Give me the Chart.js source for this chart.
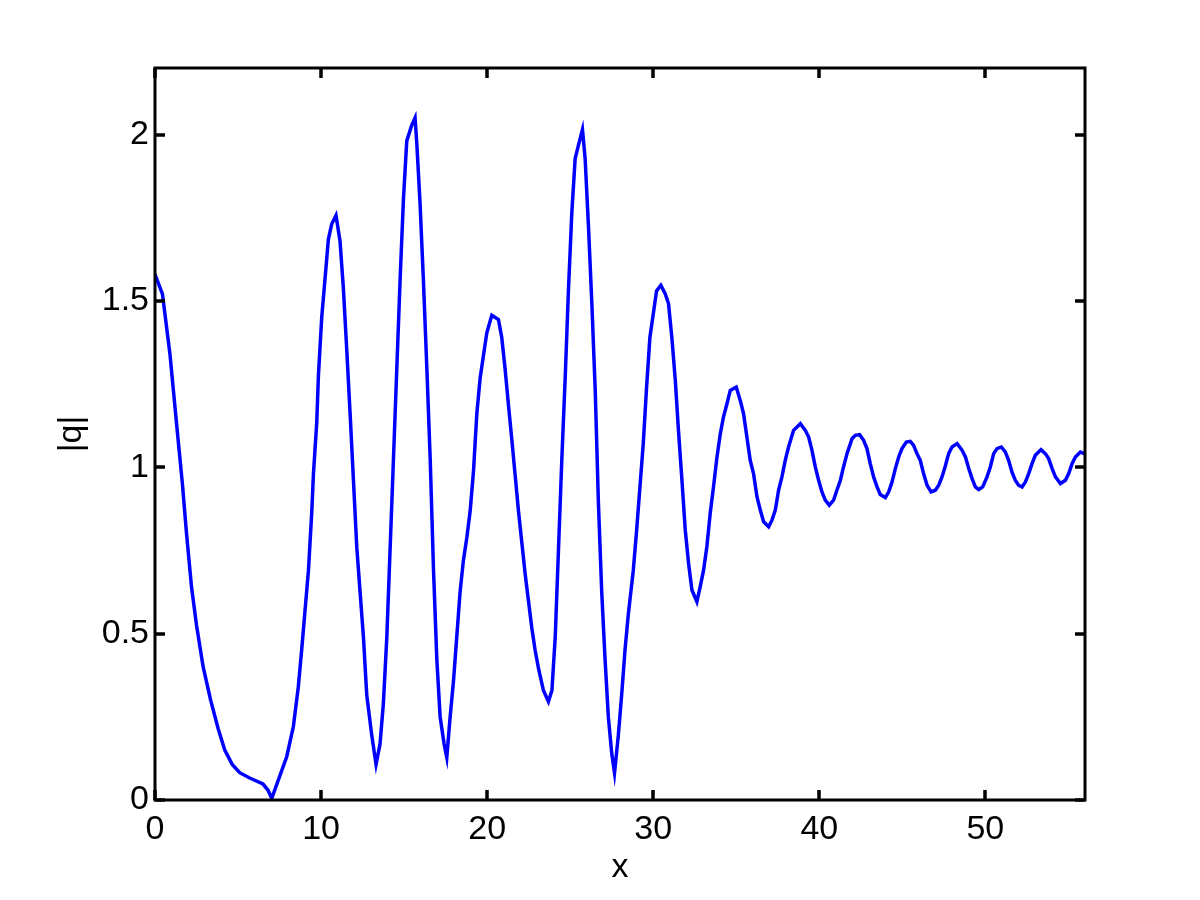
<!DOCTYPE html>
<html>
<head>
<meta charset="utf-8">
<title>|q| against x</title>
<script src="https://cdn.jsdelivr.net/npm/chart.js@4.4.1/dist/chart.umd.min.js"></script>
<style>
    html, body { margin: 0; padding: 0; background: #ffffff; }
    #grafico { display: block; }
</style>
</head>
<body>
<canvas id="grafico" width="1200" height="900"></canvas>
<script>
// valores
var xs = [
    0, 0.45, 0.9, 1.3, 1.65, 1.9, 2.2, 2.5, 2.9, 3.35,
    3.8, 4.2, 4.65, 5.1, 5.7, 6.5, 6.8, 7.03, 7.5, 7.93,
    8.33, 8.63, 8.84, 9.04, 9.24, 9.44, 9.54, 9.74, 9.84, 10.04,
    10.24, 10.44, 10.64, 10.9, 11.14, 11.34, 11.55, 11.75, 11.95, 12.15,
    12.35, 12.55, 12.75, 13.05, 13.31, 13.55, 13.75, 13.96, 14.16, 14.36,
    14.56, 14.76, 14.96, 15.16, 15.46, 15.66, 15.77, 15.96, 16.16, 16.37,
    16.57, 16.77, 16.97, 17.17, 17.41, 17.57, 17.77, 17.97, 18.17, 18.37,
    18.57, 18.78, 18.98, 19.18, 19.38, 19.58, 19.78, 19.98, 20.28, 20.68,
    20.88, 21.08, 21.28, 21.49, 21.69, 21.89, 22.09, 22.29, 22.49, 22.69,
    22.89, 23.09, 23.39, 23.69, 23.9, 24.1, 24.3, 24.5, 24.7, 24.9,
    25.1, 25.3, 25.5, 25.74, 25.9, 26.1, 26.3, 26.51, 26.7, 26.9,
    27.1, 27.3, 27.5, 27.67, 27.9, 28.1, 28.3, 28.5, 28.8, 29.0,
    29.2, 29.4, 29.6, 29.8, 30.0, 30.2, 30.46, 30.72, 30.92, 31.12,
    31.33, 31.52, 31.73, 31.93, 32.13, 32.33, 32.63, 32.83, 33.03, 33.23,
    33.43, 33.63, 33.84, 34.04, 34.23, 34.44, 34.64, 35.0, 35.24, 35.44,
    35.64, 35.84, 36.04, 36.25, 36.45, 36.65, 36.95, 37.15, 37.35, 37.55,
    37.75, 37.95, 38.15, 38.45, 38.86, 39.16, 39.36, 39.56, 39.76, 39.96,
    40.16, 40.36, 40.6, 40.86, 41.06, 41.27, 41.46, 41.67, 41.97, 42.17,
    42.43, 42.67, 42.87, 43.07, 43.27, 43.48, 43.67, 43.98, 44.18, 44.38,
    44.58, 44.78, 44.98, 45.24, 45.48, 45.68, 45.88, 46.08, 46.28, 46.49,
    46.73, 46.99, 47.19, 47.39, 47.59, 47.79, 47.99, 48.3, 48.6, 48.8,
    49.0, 49.2, 49.4, 49.6, 49.84, 50.1, 50.3, 50.5, 50.7, 50.96,
    51.2, 51.4, 51.6, 51.8, 52.0, 52.21, 52.41, 52.61, 52.81, 53.01,
    53.35, 53.61, 53.81, 54.02, 54.22, 54.52, 54.82, 55.02, 55.22, 55.42,
    55.72, 56
];
var qs = [
    1.58, 1.52, 1.34, 1.13, 0.95, 0.80, 0.64, 0.525, 0.40, 0.30,
    0.215, 0.15, 0.107, 0.082, 0.066, 0.048, 0.03, 0.005, 0.07, 0.13,
    0.22, 0.34, 0.456, 0.573, 0.69, 0.866, 0.98, 1.135, 1.275, 1.451,
    1.568, 1.685, 1.731, 1.757, 1.68, 1.54, 1.35, 1.16, 0.96, 0.76,
    0.625, 0.49, 0.316, 0.195, 0.107, 0.168, 0.289, 0.49, 0.759, 1.027,
    1.296, 1.565, 1.806, 1.981, 2.028, 2.05, 1.968, 1.793, 1.565, 1.296,
    1.027, 0.692, 0.423, 0.249, 0.168, 0.128, 0.249, 0.356, 0.49, 0.625,
    0.72, 0.79, 0.87, 0.99, 1.162, 1.269, 1.337, 1.404, 1.457, 1.444,
    1.39, 1.296, 1.189, 1.081, 0.974, 0.867, 0.773, 0.679, 0.598, 0.517,
    0.45, 0.396, 0.329, 0.296, 0.329, 0.49, 0.759, 1.028, 1.269, 1.538,
    1.766, 1.928, 1.968, 2.015, 1.928, 1.726, 1.498, 1.229, 0.893, 0.625,
    0.423, 0.249, 0.141, 0.081, 0.195, 0.316, 0.45, 0.558, 0.69, 0.81,
    0.94, 1.07, 1.24, 1.39, 1.46, 1.53, 1.547, 1.522, 1.492, 1.391,
    1.261, 1.111, 0.961, 0.811, 0.711, 0.631, 0.596, 0.641, 0.69, 0.761,
    0.861, 0.941, 1.031, 1.101, 1.151, 1.191, 1.231, 1.241, 1.201, 1.161,
    1.091, 1.021, 0.981, 0.911, 0.871, 0.836, 0.821, 0.841, 0.871, 0.931,
    0.971, 1.021, 1.061, 1.111, 1.131, 1.111, 1.091, 1.051, 1.001, 0.961,
    0.926, 0.901, 0.886, 0.901, 0.931, 0.961, 1.001, 1.041, 1.086, 1.096,
    1.098, 1.081, 1.056, 1.011, 0.971, 0.941, 0.918, 0.909, 0.926, 0.956,
    0.996, 1.031, 1.056, 1.076, 1.078, 1.066, 1.041, 1.021, 0.981, 0.946,
    0.926, 0.931, 0.946, 0.971, 1.004, 1.041, 1.061, 1.071, 1.051, 1.031,
    0.996, 0.966, 0.941, 0.933, 0.941, 0.971, 1.001, 1.041, 1.056, 1.061,
    1.046, 1.021, 0.986, 0.961, 0.946, 0.941, 0.956, 0.981, 1.011, 1.036,
    1.053, 1.041, 1.026, 0.996, 0.971, 0.951, 0.961, 0.981, 1.011, 1.031,
    1.046, 1.04
];

// ejes
var xMin = 0, xMax = 56, xStep = 10;
var yMin = 0, yMax = 2.2, yStep = 0.5;
var xTitle = 'x';
var yTitle = '|q|';

var fuente = "'Liberation Sans', Arial, Helvetica, sans-serif";

// caja tipo matlab con marcas hacia dentro en los cuatro lados
var cajaEjes = {
    id: 'cajaEjes',
    afterDraw: function (chart) {
        var ctx = chart.ctx;
        var area = chart.chartArea;
        var sx = chart.scales.x;
        var sy = chart.scales.y;
        var largo = 10;
        ctx.save();
        ctx.strokeStyle = '#000000';
        ctx.lineWidth = 3.5;
        ctx.lineCap = 'butt';
        ctx.beginPath();
        sx.ticks.forEach(function (t) {
            var px = Math.round(sx.getPixelForValue(t.value));
            ctx.moveTo(px, area.bottom);
            ctx.lineTo(px, area.bottom - largo);
            ctx.moveTo(px, area.top);
            ctx.lineTo(px, area.top + largo);
        });
        sy.ticks.forEach(function (t) {
            var py = Math.round(sy.getPixelForValue(t.value));
            ctx.moveTo(area.left, py);
            ctx.lineTo(area.left + largo, py);
            ctx.moveTo(area.right, py);
            ctx.lineTo(area.right - largo, py);
        });
        ctx.stroke();
        ctx.lineWidth = 3;
        ctx.strokeRect(area.left, area.top, area.right - area.left, area.bottom - area.top);
        ctx.restore();
    }
};

var puntos = xs.map(function (x, i) {
    return {x: x, y: qs[i]};
});

Chart.defaults.font.family = fuente;
Chart.defaults.font.size = 34;
Chart.defaults.color = '#000000';

var ctx = document.getElementById('grafico').getContext('2d');
var grafico = new Chart(ctx, {
    type: 'scatter',
    data: {
        datasets: [{
            data: puntos,
            showLine: true,
            borderColor: '#0000ff',
            backgroundColor: '#0000ff',
            borderWidth: 3.5,
            pointRadius: 0,
            tension: 0
        }]
    },
    options: {
        responsive: false,
        animation: false,
        devicePixelRatio: 1,
        layout: {
            padding: {left: 0, top: 68, right: 115, bottom: 0}
        },
        plugins: {
            legend: {display: false},
            tooltip: {enabled: false}
        },
        scales: {
            x: {
                type: 'linear',
                min: xMin,
                max: xMax,
                grid: {display: false, drawTicks: false},
                border: {display: false},
                ticks: {
                    stepSize: xStep,
                    includeBounds: false,
                    padding: 9,
                    maxRotation: 0,
                    autoSkip: false
                },
                title: {
                    display: true,
                    text: xTitle,
                    padding: {top: 0, bottom: 12}
                },
                afterFit: function (scale) {
                    scale.height = 100;
                }
            },
            y: {
                type: 'linear',
                min: yMin,
                max: yMax,
                grid: {display: false, drawTicks: false},
                border: {display: false},
                ticks: {
                    stepSize: yStep,
                    includeBounds: false,
                    padding: 6,
                    autoSkip: false,
                    callback: function (v) {
                        return String(Math.round(v * 10) / 10);
                    }
                },
                title: {
                    display: true,
                    text: yTitle,
                    padding: {top: 51, bottom: 0}
                },
                afterFit: function (scale) {
                    scale.width = 155;
                }
            }
        }
    },
    plugins: [cajaEjes]
});
</script>
</body>
</html>
